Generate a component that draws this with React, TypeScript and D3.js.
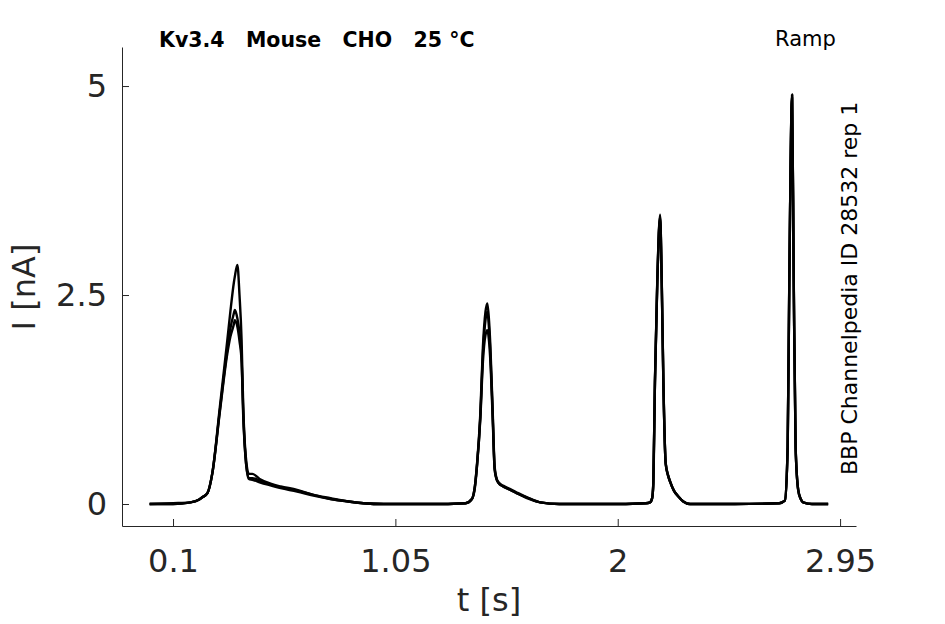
// @ts-nocheck
import React, { useEffect, useRef } from "react";
import * as d3 from "d3";

// time points (s) shared by all sweeps
const tSec = [
  0.0, 0.1, 0.175, 0.21, 0.225, 0.247, 0.268, 0.3, 0.332, 0.345, 0.36, 0.364,
  0.375, 0.384, 0.393, 0.4, 0.41, 0.424, 0.439, 0.47, 0.52, 0.56, 0.63, 0.7,
  0.773, 0.85, 0.914, 1.0, 1.2, 1.35, 1.377, 1.39, 1.399, 1.413, 1.424, 1.435,
  1.443, 1.45, 1.456, 1.466, 1.474, 1.482, 1.491, 1.51, 1.541, 1.575, 1.612,
  1.669, 1.75, 1.95, 2.12, 2.138, 2.147, 2.152, 2.159, 2.169, 2.181, 2.188,
  2.195, 2.205, 2.215, 2.223, 2.24, 2.259, 2.28, 2.309, 2.5, 2.69, 2.714,
  2.726, 2.733, 2.745, 2.752, 2.76, 2.771, 2.782, 2.792, 2.83, 2.899,
];

// current (nA) for each repetition
const sweep1 = [
  0.0, 0.0, 0.02, 0.05, 0.08, 0.13, 0.37, 1.16, 1.96, 2.3, 2.65, 2.72, 2.86,
  2.5, 1.96, 1.16, 0.6, 0.36, 0.36, 0.3, 0.24, 0.21, 0.17, 0.11, 0.07, 0.03,
  0.01, 0.0, 0.0, 0.01, 0.06, 0.22, 0.49, 1.09, 1.88, 2.3, 2.4, 2.2, 1.88,
  1.09, 0.45, 0.31, 0.26, 0.22, 0.18, 0.13, 0.08, 0.02, 0.0, 0.0, 0.01, 0.02,
  0.07, 0.25, 1.48, 2.68, 3.46, 2.68, 1.48, 0.49, 0.35, 0.28, 0.16, 0.09, 0.03,
  0.0, 0.0, 0.01, 0.04, 0.69, 2.68, 4.89, 2.68, 0.69, 0.17, 0.06, 0.02, 0.0,
  0.0,
];
const sweep2 = [
  0.0, 0.01, 0.02, 0.05, 0.08, 0.13, 0.37, 1.12, 1.85, 2.1, 2.28, 2.32, 2.22,
  2.05, 1.75, 1.1, 0.55, 0.31, 0.31, 0.28, 0.23, 0.2, 0.16, 0.11, 0.06, 0.03,
  0.01, 0.0, 0.0, 0.01, 0.06, 0.22, 0.47, 1.02, 1.7, 2.02, 2.08, 1.95, 1.7,
  1.0, 0.42, 0.3, 0.25, 0.21, 0.17, 0.12, 0.08, 0.02, 0.0, 0.0, 0.01, 0.02,
  0.07, 0.24, 1.45, 2.64, 3.42, 2.64, 1.45, 0.48, 0.34, 0.27, 0.16, 0.09, 0.03,
  0.0, 0.0, 0.01, 0.04, 0.67, 2.64, 4.86, 2.64, 0.67, 0.17, 0.06, 0.02, 0.0,
  0.0,
];
const sweep3 = [
  0.0, 0.0, 0.02, 0.05, 0.08, 0.13, 0.37, 1.1, 1.8, 2.0, 2.15, 2.2, 2.12, 1.95,
  1.7, 1.05, 0.55, 0.3, 0.29, 0.26, 0.22, 0.19, 0.15, 0.1, 0.06, 0.03, 0.01,
  0.0, 0.0, 0.01, 0.06, 0.2, 0.46, 1.05, 1.8, 2.2, 2.3, 2.1, 1.8, 1.05, 0.42,
  0.3, 0.25, 0.21, 0.17, 0.12, 0.07, 0.02, 0.0, 0.0, 0.01, 0.02, 0.07, 0.25,
  1.46, 2.66, 3.44, 2.66, 1.46, 0.48, 0.34, 0.27, 0.16, 0.09, 0.03, 0.0, 0.0,
  0.01, 0.04, 0.68, 2.66, 4.9, 2.66, 0.68, 0.17, 0.06, 0.02, 0.0, 0.0,
];

const xTicks = [0.1, 1.05, 2, 2.95];
const yTicks = [0, 2.5, 5];

const FONT = "'DejaVu Sans', sans-serif";
const AX = "#262626";

const App = () => {
  const svgRef = useRef();

  useEffect(() => {
    const width = 945;
    const height = 624;
    const svg = d3.select(svgRef.current);
    svg.selectAll("*").remove();
    svg.attr("width", width).attr("height", height);

    const x = d3.scaleLinear().domain([-0.118, 3.018]).range([122, 856]);
    const y = d3.scaleLinear().domain([-0.263, 5.467]).range([526, 47]);

    // traces
    const line = d3
      .line()
      .x((d) => x(d[0]))
      .y((d) => y(d[1]))
      .curve(d3.curveMonotoneX);

    [sweep1, sweep2, sweep3].forEach((s) => {
      svg
        .append("path")
        .datum(tSec.map((t, i) => [t, s[i]]))
        .attr("d", line)
        .attr("fill", "none")
        .attr("stroke", "#000")
        .attr("stroke-width", 2.4)
        .attr("stroke-linejoin", "round");
    });

    // X axis (ticks point inward)
    const gx = svg
      .append("g")
      .attr("transform", `translate(0,526)`)
      .call(
        d3
          .axisBottom(x)
          .tickValues(xTicks)
          .tickFormat((d) => String(d))
          .tickSizeInner(-7)
          .tickSizeOuter(0)
          .tickPadding(23),
      );

    // Y axis
    const gy = svg
      .append("g")
      .attr("transform", `translate(122,0)`)
      .call(
        d3
          .axisLeft(y)
          .tickValues(yTicks)
          .tickFormat((d) => String(d))
          .tickSizeInner(-7)
          .tickSizeOuter(0)
          .tickPadding(15),
      );

    [gx, gy].forEach((g) => {
      g.select(".domain").attr("stroke", AX).attr("stroke-width", 1);
      g.selectAll(".tick line").attr("stroke", AX).attr("stroke-width", 1);
      g.selectAll(".tick text")
        .attr("fill", AX)
        .style("font-family", FONT)
        .style("font-size", "32px");
    });

    // axis labels
    svg
      .append("text")
      .attr("x", 489)
      .attr("y", 611)
      .attr("text-anchor", "middle")
      .attr("fill", AX)
      .style("font-family", FONT)
      .style("font-size", "32px")
      .text("t [s]");

    svg
      .append("text")
      .attr("transform", "translate(35,287) rotate(-90)")
      .attr("text-anchor", "middle")
      .attr("fill", AX)
      .style("font-family", FONT)
      .style("font-size", "32px")
      .text("I [nA]");

    // annotations
    svg
      .append("text")
      .attr("x", 159)
      .attr("y", 47)
      .attr("fill", "#000")
      .style("font-family", FONT)
      .style("font-size", "20.5px")
      .style("font-weight", "bold")
      .style("white-space", "pre")
      .text("Kv3.4   Mouse   CHO   25 °C");

    svg
      .append("text")
      .attr("x", 775)
      .attr("y", 46)
      .attr("fill", "#000")
      .style("font-family", FONT)
      .style("font-size", "21px")
      .text("Ramp");

    svg
      .append("text")
      .attr("transform", "translate(857,475) rotate(-90)")
      .attr("fill", "#000")
      .style("font-family", FONT)
      .style("font-size", "22px")
      .text("BBP Channelpedia ID 28532 rep 1");
  }, []);

  return (
    <svg
      ref={svgRef}
      style={{ position: "absolute", left: 0, top: 0, background: "#fff" }}
    ></svg>
  );
};

export default App;
